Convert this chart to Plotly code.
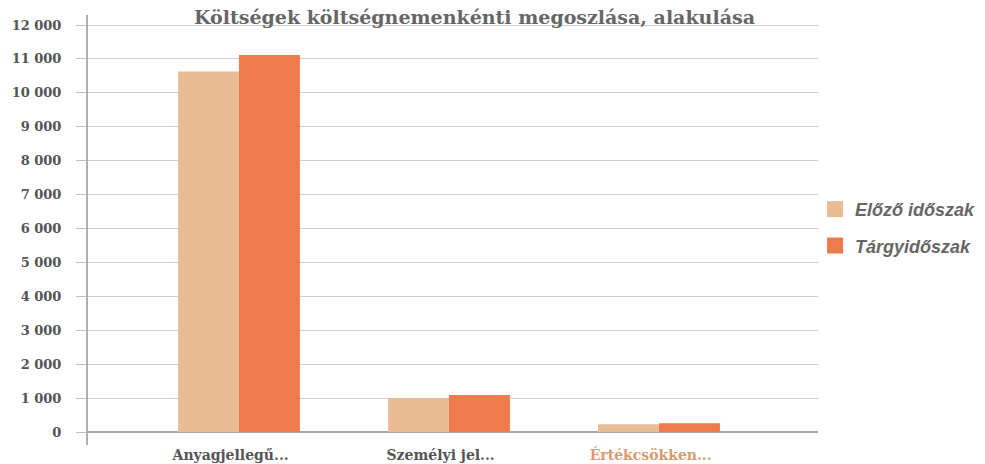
import plotly.graph_objects as go

categories = ["Anyagjellegű...", "Személyi jel...", "Értékcsökken..."]
elozo = [10630, 1000, 230]
targy = [11115, 1090, 260]
series_names = ["Előző időszak", "Tárgyidőszak"]
series_colors = ["#E9BC94", "#EE7B4C"]
ytick_vals = [0, 1000, 2000, 3000, 4000, 5000, 6000, 7000, 8000, 9000, 10000, 11000, 12000]
ytick_text = ["0", "1 000", "2 000", "3 000", "4 000", "5 000", "6 000", "7 000",
              "8 000", "9 000", "10 000", "11 000", "12 000"]
title_text = "Költségek költségnemenkénti megoszlása, alakulása"

x_idx = list(range(len(categories)))
label_colors = ["#555555", "#555555", "#D99A72"]
tick_text = [f"<span style='color:{c}'>{t}</span>" for t, c in zip(categories, label_colors)]

fig = go.Figure()
for name, vals, col in zip(series_names, [elozo, targy], series_colors):
    fig.add_trace(go.Bar(x=x_idx, y=vals, name=name, marker_color=col,
                         marker_line_width=0, showlegend=False))
# legend entries with larger square swatches
for name, col in zip(series_names, series_colors):
    fig.add_trace(go.Scatter(x=[None], y=[None], mode="markers", name=name,
                             legendgroup=name,
                             marker=dict(symbol="square", size=16, color=col)))

# page body has an 8px margin, so the figure is 8px smaller and margins shifted
fig.update_layout(
    width=977, height=456,
    margin=dict(l=80, r=167, t=7, b=19, autoexpand=False),
    paper_bgcolor="white", plot_bgcolor="white",
    barmode="group", bargap=0.42, bargroupgap=0,
    legend=dict(x=0.996, xanchor="left", y=0.506, yanchor="middle",
                font=dict(family="Liberation Sans", size=18, color="#666666",
                          style="italic", weight="bold"),
                itemsizing="trace", tracegroupgap=10, bgcolor="rgba(0,0,0,0)",
                itemwidth=30),
    showlegend=True,
    annotations=[dict(text=title_text, xref="paper", yref="paper", x=0.53, y=1,
                      xanchor="center", yanchor="bottom", yshift=-15, showarrow=False,
                      bgcolor="rgba(255,255,255,0)",
                      font=dict(family="DejaVu Serif", size=19, color="#666666",
                                weight="bold"))],
)
fig.update_xaxes(
    range=[-0.719, 2.757], automargin=False,
    tickvals=[i - 0.04 for i in x_idx], ticktext=tick_text,
    showgrid=False, showline=False, ticks="", zeroline=False,
    tickfont=dict(family="DejaVu Serif", size=14, color="#555555", weight="bold"),
)
fig.update_yaxes(
    range=[-383, 12295], automargin=False,
    tickvals=ytick_vals, ticktext=ytick_text,
    showgrid=True, gridcolor="#cfcfcf", gridwidth=1,
    zeroline=True, zerolinecolor="#a8a8a8", zerolinewidth=2,
    showline=True, linecolor="#b0b0b0", linewidth=2,
    ticks="outside", ticklen=10, tickcolor="#c0c0c0", tickwidth=1,
    ticklabelstandoff=12,
    tickfont=dict(family="DejaVu Serif", size=13, color="#555555", weight="bold"),
)

fig.write_html("out.html")
